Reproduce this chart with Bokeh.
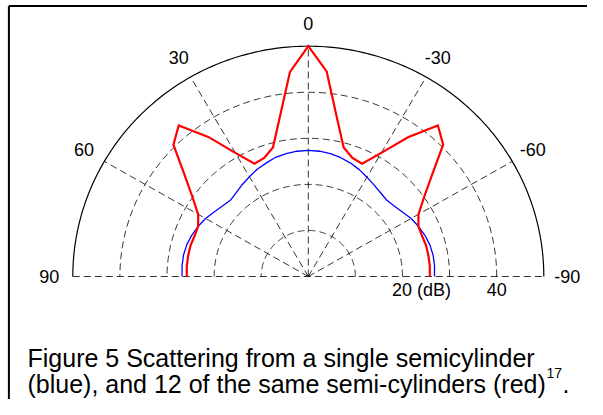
import numpy as np
from bokeh.plotting import figure
from bokeh.models import Range1d
from bokeh.embed import file_html
from bokeh.resources import INLINE
from bokeh.core.properties import value

# ---------------- data ----------------
# angle measured from the top (0), positive towards the left
theta_deg = [90, 85, 80, 75, 70, 65, 60, 55, 50, 45, 40, 35, 30, 25, 20, 15, 10, 5, 0,
             -5, -10, -15, -20, -25, -30, -35, -40, -45, -50, -55, -60, -65, -70, -75, -80, -85, -90]
# 12 semi-cylinders (red), dB
red_db = [25.8, 25.9, 25.9, 25.9, 25.7, 25.8, 27.0, 30.0, 34.3, 40.5, 42.8, 37.0, 31.0, 27.0, 27.4, 29.0, 35.0, 44.6, 50.0,
          44.7, 35.0, 29.0, 27.4, 27.0, 31.0, 36.9, 42.8, 40.5, 34.3, 30.0, 27.0, 25.8, 25.7, 25.9, 25.9, 25.9, 25.8]
# single semi-cylinder (blue), dB
blue_db = [26.8, 26.9, 26.9, 26.7, 26.3, 25.8, 25.2, 24.4, 23.8, 23.4, 23.8, 24.4, 25.0, 25.7, 26.2, 26.8, 27.1, 27.3, 27.4,
           27.3, 27.1, 26.7, 26.2, 25.6, 24.9, 24.3, 23.8, 23.5, 23.8, 24.4, 25.2, 25.8, 26.3, 26.7, 26.9, 26.9, 26.8]

angle_ticks = [90, 60, 30, 0, -30, -60, -90]
angle_labels = ["90", "60", "30", "0", "-30", "-60", "-90"]
rho_grid = [10, 20, 30, 40]
rho_max = 50
rho_tick_vals = [20, 40]
rho_tick_labels = ["20 (dB)", "40"]
caption_line1 = "Figure 5 Scattering from a single semicylinder"
caption_line2 = "(blue), and 12 of the same semi-cylinders (red)"
caption_sup = "17"
caption_end = "."

# ---------------- layout ----------------
W, H = 587, 399
cx_px, cy_px = 307.8, 276.0     # pole position in figure pixels (from top-left)
sx, sy = 4.71, 4.606            # pixels per dB
x0 = -cx_px / sx
x1 = (W - cx_px) / sx
y1 = cy_px / sy
y0 = -(H - cy_px) / sy

def px_x(px):
    return x0 + px / sx

def px_y(py):
    return y1 - py / sy

def pol(r, deg):
    t = np.radians(np.asarray(deg, dtype=float))
    r = np.asarray(r, dtype=float)
    return -r * np.sin(t), r * np.cos(t)

p = figure(width=W, height=H, output_backend="svg", toolbar_location=None,
           x_range=Range1d(x0, x1), y_range=Range1d(y0, y1),
           min_border=0, x_axis_type=None, y_axis_type=None)
p.grid.visible = False
p.outline_line_color = None
p.background_fill_color = "white"
p.border_fill_color = "white"

FONT = value("Liberation Sans")
DASH = "7 4"

# frame of the figure (top and left edges)
p.line([px_x(8.4), x1], [px_y(5.5), px_y(5.5)], line_color="black", line_width=2)
p.line([px_x(8.4), px_x(8.4)], [y0, px_y(5.5)], line_color="black", line_width=2)

# dashed rho circles
phi = np.linspace(-90, 90, 181)
for rg in rho_grid:
    gx, gy = pol(np.full_like(phi, rg), phi)
    p.line(gx, gy, line_color="black", line_width=0.8, line_dash=DASH)

# spokes
for a in [60, 30, 0, -30, -60]:
    sxv, syv = pol([0, rho_max], [a, a])
    p.line(sxv, syv, line_color="black", line_width=0.8, line_dash=DASH)
bx, by = pol([rho_max, rho_max], [90, -90])
p.line(bx, by, line_color="black", line_width=0.8, line_dash=DASH)

# outer solid circle
ox, oy = pol(np.full_like(phi, rho_max), phi)
p.line(ox, oy, line_color="black", line_width=1.2)

# data
bxv, byv = pol(blue_db, theta_deg)
p.line(bxv, byv, line_color="#0000ff", line_width=1.3)
rxv, ryv = pol(red_db, theta_deg)
p.line(rxv, ryv, line_color="#ff0000", line_width=2.2, line_join="miter")

# angle labels
lx, ly = pol(np.full(len(angle_ticks), 1.1 * rho_max), angle_ticks)
p.text(lx, ly, text=angle_labels, text_font=FONT, text_font_size="18px",
       text_align="center", text_baseline="middle", text_color="black")

# rho labels
p.text([rho_tick_vals[0]], [px_y(cy_px + 13)], text=[rho_tick_labels[0]], text_font=FONT,
       text_font_size="18px", text_align="left", text_baseline="middle", x_offset=-10.5)
p.text([rho_tick_vals[1]], [px_y(cy_px + 13)], text=[rho_tick_labels[1]], text_font=FONT,
       text_font_size="18px", text_align="center", text_baseline="middle")

# caption
p.text([px_x(27)], [px_y(357)], text=[caption_line1], text_font=FONT, text_font_size="25px",
       text_align="left", text_baseline="alphabetic")
p.text([px_x(27)], [px_y(383)], text=[caption_line2], text_font=FONT, text_font_size="25px",
       text_align="left", text_baseline="alphabetic")
p.text([px_x(546)], [px_y(372)], text=[caption_sup], text_font=FONT, text_font_size="14px",
       text_align="left", text_baseline="alphabetic")
p.text([px_x(562)], [px_y(383)], text=[caption_end], text_font=FONT, text_font_size="25px",
       text_align="left", text_baseline="alphabetic")

open("out.html", "w").write(file_html(p, INLINE))
